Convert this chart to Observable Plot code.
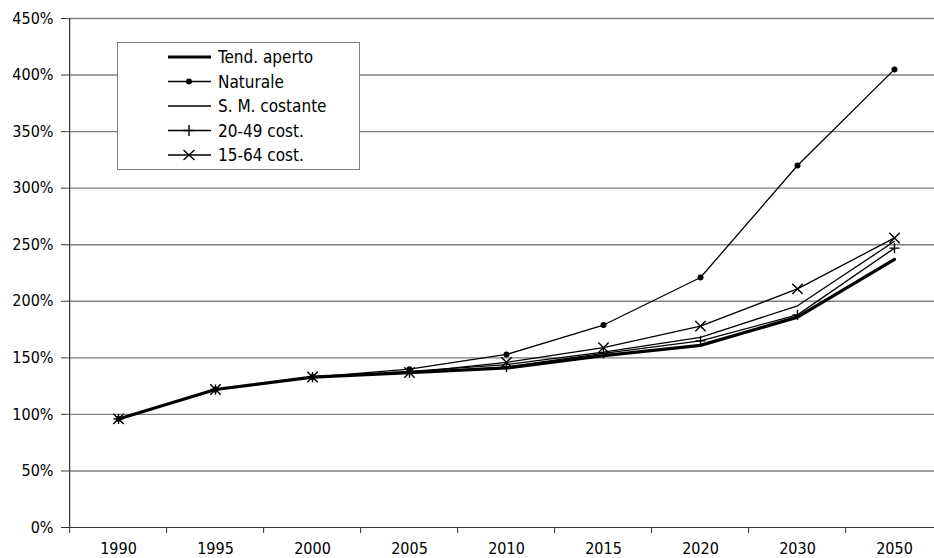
<!DOCTYPE html>
<html>
<head>
<meta charset="utf-8">
<script src="https://cdn.jsdelivr.net/npm/d3@7"></script>
<script src="https://cdn.jsdelivr.net/npm/@observablehq/plot@0.6"></script>
<style>
  html, body { margin: 0; padding: 0; background: #fff; }
  #wrap { position: relative; width: 934px; height: 558px; font-family: "DejaVu Sans Condensed", "DejaVu Sans", Verdana, sans-serif; }
  #legend { position: absolute; left: 117px; top: 42px; width: 243px; height: 128px; box-sizing: border-box; border: 1px solid #808080; background: #fff; }
  #legend svg { display: block; }
</style>
</head>
<body>
<div id="wrap"><div id="legend"></div></div>
<script>
const years = ["1990","1995","2000","2005","2010","2015","2020","2030","2050"];
const tendAperto  = [96, 122, 133, 137, 141, 152, 161, 186, 237];
const naturale    = [96, 122, 133, 140, 153, 179, 221, 320, 405];
const smCostante  = [96, 122, 133, 138, 144, 155, 168, 196, 253];
const cost2049    = [96, 122, 133, 137, 142, 154, 165, 188, 247];
const cost1564    = [96, 122, 133, 137, 146, 159, 178, 211, 256];
const yTicks = [0, 50, 100, 150, 200, 250, 300, 350, 400, 450];
const seriesNames = ["Tend. aperto", "Naturale", "S. M. costante", "20-49 cost.", "15-64 cost."];

const rows = years.map((year, i) => ({
  year,
  tend: tendAperto[i], nat: naturale[i], sm: smCostante[i], c2049: cost2049[i], c1564: cost1564[i]
}));

const W = 934, H = 558;
const xRange = [66, 946];
const step = (xRange[1] - xRange[0]) / years.length;
const font = "'DejaVu Sans Condensed', 'DejaVu Sans', Verdana, sans-serif";

const chart = Plot.plot({
  width: W, height: H,
  marginLeft: 66, marginRight: 0, marginTop: 18, marginBottom: 31,
  style: { fontFamily: font, fontSize: "16px", color: "#000", background: "#fff" },
  x: { type: "point", domain: years, range: xRange, padding: 0.5, label: null },
  y: { domain: [0, 450], label: null },
  marks: [
    Plot.gridY(yTicks.filter(d => d > 0), { stroke: "#808080", strokeOpacity: 1, strokeWidth: 1.4 }),
    Plot.ruleY([0], { stroke: "#333", strokeWidth: 1.2 }),
    Plot.ruleX([years[0]], { dx: -step / 2, stroke: "#333", strokeWidth: 1.2 }),
    Plot.axisY({ ticks: yTicks, tickFormat: d => d + "%", tickSize: 5, tickPadding: 8, fontSize: 16, stroke: "#333" }),
    Plot.axisX({ tickSize: 6, tickFormat: () => "", dx: -step / 2, stroke: "#333" }),
    Plot.axisX({ tickSize: 0, tickPadding: 15, fontSize: 16 }),
    Plot.line(rows, { x: "year", y: "nat", stroke: "#000", strokeWidth: 1.3 }),
    Plot.line(rows, { x: "year", y: "sm", stroke: "#000", strokeWidth: 1.3 }),
    Plot.line(rows, { x: "year", y: "c2049", stroke: "#000", strokeWidth: 1.3 }),
    Plot.line(rows, { x: "year", y: "c1564", stroke: "#000", strokeWidth: 1.3 }),
    Plot.line(rows, { x: "year", y: "tend", stroke: "#000", strokeWidth: 3.2 }),
    Plot.dot(rows, { x: "year", y: "nat", r: 3, fill: "#000", stroke: "none" }),
    Plot.dot(rows, { x: "year", y: "c2049", symbol: "plus", r: 3.4, stroke: "#000", strokeWidth: 1.4, fill: "none" }),
    Plot.dot(rows, { x: "year", y: "c1564", symbol: "times", r: 4.8, stroke: "#000", strokeWidth: 1.4, fill: "none" })
  ]
});
document.getElementById("wrap").prepend(chart);

// Legend
const lg = d3.select("#legend").append("svg").attr("width", 241).attr("height", 126);
const rowY = [14, 38.5, 63, 87.5, 112];
seriesNames.forEach((name, i) => {
  const g = lg.append("g").attr("transform", `translate(0,${rowY[i]})`);
  g.append("line").attr("x1", 50).attr("x2", 93).attr("y1", 0).attr("y2", 0)
    .attr("stroke", "#000").attr("stroke-width", i === 0 ? 3.2 : 1.3);
  if (i === 1) g.append("circle").attr("cx", 71).attr("cy", 0).attr("r", 3).attr("fill", "#000");
  if (i === 3) g.append("path").attr("d", "M65.5,0H76.5M71,-5.5V5.5").attr("stroke", "#000").attr("stroke-width", 1.4);
  if (i === 4) g.append("path").attr("d", "M65.5,-5L76.5,5M65.5,5L76.5,-5").attr("stroke", "#000").attr("stroke-width", 1.4);
  g.append("text").attr("x", 100).attr("y", 0).attr("dy", "0.36em")
    .attr("font-family", font).attr("font-size", 17).attr("fill", "#000").text(name);
});
</script>
</body>
</html>
